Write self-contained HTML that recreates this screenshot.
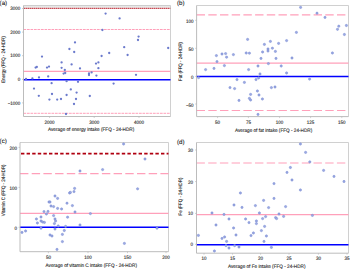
<!DOCTYPE html>
<html><head><meta charset="utf-8"><style>
html,body{margin:0;padding:0;background:#fff;width:350px;height:270px;overflow:hidden}
svg{display:block}
text{font-family:"Liberation Sans", sans-serif;fill:#222;stroke:#222;stroke-width:0.1;text-rendering:geometricPrecision}
circle{fill:#6b7acc} .r circle{fill:#9aa8e2;stroke:#7788d0;stroke-width:0.5}
</style></head><body>
<svg width="350" height="270" viewBox="0 0 350 270">
<rect width="350" height="270" fill="#fff"/>
<rect x="23.5" y="5.5" width="147" height="2.2" fill="#e8e8e8"/>
<path d="M23.5 5.5H170.5V116.5" fill="none" stroke="#c4c4c4" stroke-width="0.8"/>
<line x1="24.3" y1="8.4" x2="170.5" y2="8.4" stroke="#b00010" stroke-width="1.3" stroke-dasharray="1.1 0.9"/>
<line x1="23.5" y1="29.5" x2="170.5" y2="29.5" stroke="#ffa0ba" stroke-width="1.0" stroke-dasharray="2.7 0.8"/>
<line x1="23.5" y1="113.3" x2="170.5" y2="113.3" stroke="#ffa0ba" stroke-width="1.0" stroke-dasharray="2.7 0.8"/>
<line x1="23.5" y1="71.4" x2="170.5" y2="71.4" stroke="#ffa0ba" stroke-width="1.25"/>
<line x1="23.5" y1="79.7" x2="170.5" y2="79.7" stroke="#0000ff" stroke-width="1.5"/>
<path d="M23.5 5.5V116.5H170.5" fill="none" stroke="#b4b4b4" stroke-width="0.9"/>
<line x1="22" y1="102.9" x2="23.5" y2="102.9" stroke="#b4b4b4" stroke-width="0.6"/>
<text transform="translate(20.3 104.5) scale(0.9 1)" text-anchor="end" font-size="5.0">&#8722;1000</text>
<line x1="22" y1="79.3" x2="23.5" y2="79.3" stroke="#b4b4b4" stroke-width="0.6"/>
<text transform="translate(20.3 80.9) scale(0.9 1)" text-anchor="end" font-size="5.0">0</text>
<line x1="22" y1="55.7" x2="23.5" y2="55.7" stroke="#b4b4b4" stroke-width="0.6"/>
<text transform="translate(20.3 57.3) scale(0.9 1)" text-anchor="end" font-size="5.0">1000</text>
<line x1="22" y1="32.1" x2="23.5" y2="32.1" stroke="#b4b4b4" stroke-width="0.6"/>
<text transform="translate(20.3 33.7) scale(0.9 1)" text-anchor="end" font-size="5.0">2000</text>
<line x1="22" y1="8.5" x2="23.5" y2="8.5" stroke="#b4b4b4" stroke-width="0.6"/>
<text transform="translate(20.3 10.1) scale(0.9 1)" text-anchor="end" font-size="5.0">3000</text>
<line x1="49.6" y1="116.5" x2="49.6" y2="118" stroke="#b4b4b4" stroke-width="0.6"/>
<text transform="translate(49.6 123.5) scale(0.9 1)" text-anchor="middle" font-size="5.0">2000</text>
<line x1="94.2" y1="116.5" x2="94.2" y2="118" stroke="#b4b4b4" stroke-width="0.6"/>
<text transform="translate(94.2 123.5) scale(0.9 1)" text-anchor="middle" font-size="5.0">3000</text>
<line x1="139" y1="116.5" x2="139" y2="118" stroke="#b4b4b4" stroke-width="0.6"/>
<text transform="translate(139 123.5) scale(0.9 1)" text-anchor="middle" font-size="5.0">4000</text>
<g>
<circle cx="26" cy="79" r="1.15"/>
<circle cx="32.4" cy="78.4" r="1.15"/>
<circle cx="35.6" cy="67.6" r="1.15"/>
<circle cx="36.8" cy="67" r="1.15"/>
<circle cx="39" cy="77.4" r="1.15"/>
<circle cx="42" cy="56.6" r="1.15"/>
<circle cx="47" cy="67.6" r="1.15"/>
<circle cx="49" cy="66.6" r="1.15"/>
<circle cx="48.2" cy="76.4" r="1.15"/>
<circle cx="51.6" cy="83.2" r="1.15"/>
<circle cx="34" cy="88.6" r="1.15"/>
<circle cx="38.8" cy="95.8" r="1.15"/>
<circle cx="49.4" cy="99.6" r="1.15"/>
<circle cx="52" cy="94" r="1.15"/>
<circle cx="57.2" cy="99.6" r="1.15"/>
<circle cx="61" cy="99" r="1.15"/>
<circle cx="61.6" cy="62.4" r="1.15"/>
<circle cx="61.6" cy="67.8" r="1.15"/>
<circle cx="63.6" cy="73.6" r="1.15"/>
<circle cx="65.2" cy="73" r="1.15"/>
<circle cx="64.8" cy="70" r="1.15"/>
<circle cx="69.4" cy="49" r="1.15"/>
<circle cx="71.6" cy="64.4" r="1.15"/>
<circle cx="75" cy="42.4" r="1.15"/>
<circle cx="74.2" cy="52" r="1.15"/>
<circle cx="80" cy="68.4" r="1.15"/>
<circle cx="66.6" cy="81.2" r="1.15"/>
<circle cx="78" cy="81.8" r="1.15"/>
<circle cx="66.6" cy="95" r="1.15"/>
<circle cx="70.8" cy="89.4" r="1.15"/>
<circle cx="66" cy="114" r="1.15"/>
<circle cx="76.6" cy="92.6" r="1.15"/>
<circle cx="76" cy="99" r="1.15"/>
<circle cx="74" cy="104" r="1.15"/>
<circle cx="89" cy="73.4" r="1.15"/>
<circle cx="89" cy="75" r="1.15"/>
<circle cx="91.6" cy="72.4" r="1.15"/>
<circle cx="89.8" cy="96" r="1.15"/>
<circle cx="96" cy="63.6" r="1.15"/>
<circle cx="98.4" cy="62.4" r="1.15"/>
<circle cx="98.4" cy="68.2" r="1.15"/>
<circle cx="96.4" cy="75.6" r="1.15"/>
<circle cx="101.6" cy="56" r="1.15"/>
<circle cx="109.2" cy="53" r="1.15"/>
<circle cx="127.6" cy="55" r="1.15"/>
<circle cx="105.6" cy="13.6" r="1.15"/>
<circle cx="119.6" cy="18.4" r="1.15"/>
<circle cx="102.4" cy="30" r="1.15"/>
<circle cx="138.6" cy="36.6" r="1.15"/>
<circle cx="138" cy="40" r="1.15"/>
<circle cx="124.2" cy="47.2" r="1.15"/>
<circle cx="136" cy="74.8" r="1.15"/>
<circle cx="113.6" cy="83.6" r="1.15"/>
<circle cx="168.2" cy="48" r="1.15"/>
</g>
<text transform="translate(48 130.7) scale(0.93 1)" font-size="5.0">Average of energy intake (FFQ - 24-HDR)</text>
<text transform="translate(5.1 59.5) rotate(-90) scale(0.88 1)" text-anchor="middle" font-size="5.0">Energy (FFQ - 24-HDR)</text>
<text x="-0.4" y="5" font-size="6.2">(a)</text>
<path d="M196.6 5.5H348.5V116.6" fill="none" stroke="#c4c4c4" stroke-width="0.8"/>
<line x1="196.6" y1="14.8" x2="348.5" y2="14.8" stroke="#ffa0ba" stroke-width="1.2" stroke-dasharray="8.4 3.3"/>
<line x1="196.6" y1="110.5" x2="348.5" y2="110.5" stroke="#ffa0ba" stroke-width="1.2" stroke-dasharray="8.4 3.3"/>
<line x1="196.6" y1="63.1" x2="348.5" y2="63.1" stroke="#ffa0ba" stroke-width="1.25"/>
<line x1="196.6" y1="76.6" x2="348.5" y2="76.6" stroke="#0000ff" stroke-width="1.5"/>
<path d="M196.6 5.5V116.6H348.5" fill="none" stroke="#b4b4b4" stroke-width="0.9"/>
<line x1="195.1" y1="104" x2="196.6" y2="104" stroke="#b4b4b4" stroke-width="0.6"/>
<text transform="translate(193.6 106.5) scale(0.9 1)" text-anchor="end" font-size="5.0">&#8722;50</text>
<line x1="195.1" y1="76.4" x2="196.6" y2="76.4" stroke="#b4b4b4" stroke-width="0.6"/>
<text transform="translate(193.6 78.9) scale(0.9 1)" text-anchor="end" font-size="5.0">0</text>
<line x1="195.1" y1="48.3" x2="196.6" y2="48.3" stroke="#b4b4b4" stroke-width="0.6"/>
<text transform="translate(193.6 50.8) scale(0.9 1)" text-anchor="end" font-size="5.0">50</text>
<line x1="195.1" y1="20.3" x2="196.6" y2="20.3" stroke="#b4b4b4" stroke-width="0.6"/>
<text transform="translate(193.6 22.8) scale(0.9 1)" text-anchor="end" font-size="5.0">100</text>
<line x1="217.6" y1="116.6" x2="217.6" y2="118.1" stroke="#b4b4b4" stroke-width="0.6"/>
<text transform="translate(217.6 123.6) scale(0.9 1)" text-anchor="middle" font-size="5.0">50</text>
<line x1="248.4" y1="116.6" x2="248.4" y2="118.1" stroke="#b4b4b4" stroke-width="0.6"/>
<text transform="translate(248.4 123.6) scale(0.9 1)" text-anchor="middle" font-size="5.0">75</text>
<line x1="279.6" y1="116.6" x2="279.6" y2="118.1" stroke="#b4b4b4" stroke-width="0.6"/>
<text transform="translate(279.6 123.6) scale(0.9 1)" text-anchor="middle" font-size="5.0">100</text>
<line x1="310.6" y1="116.6" x2="310.6" y2="118.1" stroke="#b4b4b4" stroke-width="0.6"/>
<text transform="translate(310.6 123.6) scale(0.9 1)" text-anchor="middle" font-size="5.0">125</text>
<line x1="341.8" y1="116.6" x2="341.8" y2="118.1" stroke="#b4b4b4" stroke-width="0.6"/>
<text transform="translate(341.8 123.6) scale(0.9 1)" text-anchor="middle" font-size="5.0">150</text>
<g class="r">
<circle cx="198.6" cy="77.6" r="1.15"/>
<circle cx="205.6" cy="69.6" r="1.15"/>
<circle cx="214" cy="68.4" r="1.15"/>
<circle cx="216.4" cy="55.6" r="1.15"/>
<circle cx="217" cy="61.6" r="1.15"/>
<circle cx="222" cy="54" r="1.15"/>
<circle cx="225.6" cy="53.6" r="1.15"/>
<circle cx="226.6" cy="57.2" r="1.15"/>
<circle cx="224.4" cy="65.6" r="1.15"/>
<circle cx="233.4" cy="54.6" r="1.15"/>
<circle cx="246.2" cy="53" r="1.15"/>
<circle cx="249.4" cy="53.2" r="1.15"/>
<circle cx="247.6" cy="39.4" r="1.15"/>
<circle cx="264.4" cy="44.4" r="1.15"/>
<circle cx="262.6" cy="52" r="1.15"/>
<circle cx="261" cy="58.4" r="1.15"/>
<circle cx="248.6" cy="69.6" r="1.15"/>
<circle cx="258" cy="66" r="1.15"/>
<circle cx="260" cy="74" r="1.15"/>
<circle cx="237" cy="79.6" r="1.15"/>
<circle cx="244.4" cy="82.4" r="1.15"/>
<circle cx="256" cy="79.6" r="1.15"/>
<circle cx="258.6" cy="78" r="1.15"/>
<circle cx="230" cy="87.6" r="1.15"/>
<circle cx="234.6" cy="88.6" r="1.15"/>
<circle cx="239" cy="100.4" r="1.15"/>
<circle cx="250.6" cy="94.4" r="1.15"/>
<circle cx="249.4" cy="98.4" r="1.15"/>
<circle cx="250.6" cy="100" r="1.15"/>
<circle cx="257.4" cy="91" r="1.15"/>
<circle cx="259" cy="95" r="1.15"/>
<circle cx="262.4" cy="99" r="1.15"/>
<circle cx="258" cy="114.4" r="1.15"/>
<circle cx="300.6" cy="7.4" r="1.15"/>
<circle cx="317" cy="13.2" r="1.15"/>
<circle cx="325" cy="17.4" r="1.15"/>
<circle cx="296.4" cy="32.4" r="1.15"/>
<circle cx="286.6" cy="40.6" r="1.15"/>
<circle cx="278.6" cy="43.4" r="1.15"/>
<circle cx="270.4" cy="41.4" r="1.15"/>
<circle cx="268" cy="49" r="1.15"/>
<circle cx="268" cy="51" r="1.15"/>
<circle cx="272.4" cy="48.2" r="1.15"/>
<circle cx="275.4" cy="51.4" r="1.15"/>
<circle cx="276" cy="58.4" r="1.15"/>
<circle cx="292" cy="58" r="1.15"/>
<circle cx="268.4" cy="63.6" r="1.15"/>
<circle cx="281.2" cy="66" r="1.15"/>
<circle cx="286.6" cy="73" r="1.15"/>
<circle cx="309.6" cy="79.1" r="1.15"/>
<circle cx="271.4" cy="87.6" r="1.15"/>
<circle cx="275" cy="87" r="1.15"/>
<circle cx="338.8" cy="26.2" r="1.15"/>
<circle cx="337.5" cy="29.3" r="1.15"/>
<circle cx="346.4" cy="25.5" r="1.15"/>
<circle cx="344.4" cy="34.5" r="1.15"/>
<circle cx="332.4" cy="53" r="1.15"/>
</g>
<text transform="translate(235 132.1) scale(0.93 1)" font-size="5.0">Average of fat intake (FFQ - 24-HDR)</text>
<text transform="translate(182.3 61.5) rotate(-90) scale(0.88 1)" text-anchor="middle" font-size="5.0">Fat (FFQ - 24-HDR)</text>
<text x="177" y="4.6" font-size="6.2">(b)</text>
<path d="M20 142.5H168.5V251.7" fill="none" stroke="#c4c4c4" stroke-width="0.8"/>
<line x1="21" y1="153.6" x2="168.5" y2="153.6" stroke="#b00010" stroke-width="1.7" stroke-dasharray="3.4 2.2"/>
<line x1="20" y1="173.7" x2="168.5" y2="173.7" stroke="#ffa0ba" stroke-width="1.2" stroke-dasharray="8.4 3.3"/>
<line x1="20" y1="213.4" x2="168.5" y2="213.4" stroke="#ffa0ba" stroke-width="1.25"/>
<line x1="20" y1="227.3" x2="168.5" y2="227.3" stroke="#0000ff" stroke-width="1.5"/>
<path d="M20 142.5V251.7H168.5" fill="none" stroke="#b4b4b4" stroke-width="0.9"/>
<line x1="18.5" y1="227.3" x2="20" y2="227.3" stroke="#b4b4b4" stroke-width="0.6"/>
<text transform="translate(17 229.8) scale(0.9 1)" text-anchor="end" font-size="5.0">0</text>
<line x1="18.5" y1="187.4" x2="20" y2="187.4" stroke="#b4b4b4" stroke-width="0.6"/>
<text transform="translate(17 189.9) scale(0.9 1)" text-anchor="end" font-size="5.0">100</text>
<line x1="18.5" y1="147.4" x2="20" y2="147.4" stroke="#b4b4b4" stroke-width="0.6"/>
<text transform="translate(17 149.9) scale(0.9 1)" text-anchor="end" font-size="5.0">200</text>
<line x1="48.4" y1="251.7" x2="48.4" y2="253.2" stroke="#b4b4b4" stroke-width="0.6"/>
<text transform="translate(48.4 258.7) scale(0.9 1)" text-anchor="middle" font-size="5.0">50</text>
<line x1="88" y1="251.7" x2="88" y2="253.2" stroke="#b4b4b4" stroke-width="0.6"/>
<text transform="translate(88 258.7) scale(0.9 1)" text-anchor="middle" font-size="5.0">100</text>
<line x1="127.5" y1="251.7" x2="127.5" y2="253.2" stroke="#b4b4b4" stroke-width="0.6"/>
<text transform="translate(127.5 258.7) scale(0.9 1)" text-anchor="middle" font-size="5.0">150</text>
<line x1="166" y1="251.7" x2="166" y2="253.2" stroke="#b4b4b4" stroke-width="0.6"/>
<text transform="translate(166 258.7) scale(0.9 1)" text-anchor="middle" font-size="5.0">200</text>
<g class="r">
<circle cx="22" cy="232.4" r="1.15"/>
<circle cx="25.6" cy="231" r="1.15"/>
<circle cx="36.4" cy="219" r="1.15"/>
<circle cx="37.4" cy="223" r="1.15"/>
<circle cx="41" cy="217" r="1.15"/>
<circle cx="41" cy="221" r="1.15"/>
<circle cx="42.6" cy="222" r="1.15"/>
<circle cx="44.4" cy="222.4" r="1.15"/>
<circle cx="41" cy="228.2" r="1.15"/>
<circle cx="44" cy="211.6" r="1.15"/>
<circle cx="46.4" cy="214" r="1.15"/>
<circle cx="48" cy="211.4" r="1.15"/>
<circle cx="49" cy="202" r="1.15"/>
<circle cx="50" cy="202" r="1.15"/>
<circle cx="51" cy="206" r="1.15"/>
<circle cx="53.6" cy="206.6" r="1.15"/>
<circle cx="55" cy="196" r="1.15"/>
<circle cx="57.6" cy="198.4" r="1.15"/>
<circle cx="57.6" cy="208.4" r="1.15"/>
<circle cx="53.6" cy="215.6" r="1.15"/>
<circle cx="55" cy="219" r="1.15"/>
<circle cx="55.6" cy="221" r="1.15"/>
<circle cx="54.4" cy="223.6" r="1.15"/>
<circle cx="55" cy="229" r="1.15"/>
<circle cx="58.2" cy="226" r="1.15"/>
<circle cx="61.6" cy="209" r="1.15"/>
<circle cx="67" cy="203.2" r="1.15"/>
<circle cx="69.6" cy="193" r="1.15"/>
<circle cx="67.6" cy="217.2" r="1.15"/>
<circle cx="65.6" cy="226.4" r="1.15"/>
<circle cx="64.3" cy="230.5" r="1.15"/>
<circle cx="62.4" cy="234.4" r="1.15"/>
<circle cx="50" cy="235" r="1.15"/>
<circle cx="52" cy="236" r="1.15"/>
<circle cx="62.4" cy="241.6" r="1.15"/>
<circle cx="57" cy="249.4" r="1.15"/>
<circle cx="74.6" cy="188.4" r="1.15"/>
<circle cx="74" cy="191.6" r="1.15"/>
<circle cx="70.4" cy="192.4" r="1.15"/>
<circle cx="72.4" cy="205.6" r="1.15"/>
<circle cx="75" cy="212" r="1.15"/>
<circle cx="90.4" cy="213.6" r="1.15"/>
<circle cx="80" cy="225" r="1.15"/>
<circle cx="80" cy="171" r="1.15"/>
<circle cx="102.6" cy="169.6" r="1.15"/>
<circle cx="123.6" cy="144" r="1.15"/>
<circle cx="145" cy="159" r="1.15"/>
<circle cx="137.6" cy="188.8" r="1.15"/>
<circle cx="157" cy="228.2" r="1.15"/>
<circle cx="124.4" cy="243.4" r="1.15"/>
</g>
<text transform="translate(45.6 266.6) scale(0.93 1)" font-size="5.0">Average of vitamin C intake (FFQ - 24-HDR)</text>
<text transform="translate(5.2 190.3) rotate(-90) scale(0.88 1)" text-anchor="middle" font-size="5.0">Vitamin C (FFQ - 24-HDR)</text>
<text x="-0.4" y="143.4" font-size="6.2">(c)</text>
<path d="M196.5 142.5H348.5V253.2" fill="none" stroke="#c4c4c4" stroke-width="0.8"/>
<line x1="196.5" y1="163" x2="348.5" y2="163" stroke="#ffa0ba" stroke-width="1.2" stroke-dasharray="8.4 3.3"/>
<line x1="196.5" y1="214.6" x2="348.5" y2="214.6" stroke="#ffa0ba" stroke-width="1.25"/>
<line x1="196.5" y1="244.7" x2="348.5" y2="244.7" stroke="#0000ff" stroke-width="1.5"/>
<path d="M196.5 142.5V253.2H348.5" fill="none" stroke="#b4b4b4" stroke-width="0.9"/>
<line x1="195" y1="244.3" x2="196.5" y2="244.3" stroke="#b4b4b4" stroke-width="0.6"/>
<text transform="translate(193 246.3) scale(0.9 1)" text-anchor="end" font-size="5.0">0</text>
<line x1="195" y1="213.4" x2="196.5" y2="213.4" stroke="#b4b4b4" stroke-width="0.6"/>
<text transform="translate(193 215.4) scale(0.9 1)" text-anchor="end" font-size="5.0">10</text>
<line x1="195" y1="181.6" x2="196.5" y2="181.6" stroke="#b4b4b4" stroke-width="0.6"/>
<text transform="translate(193 183.6) scale(0.9 1)" text-anchor="end" font-size="5.0">20</text>
<line x1="195" y1="150" x2="196.5" y2="150" stroke="#b4b4b4" stroke-width="0.6"/>
<text transform="translate(193 152) scale(0.9 1)" text-anchor="end" font-size="5.0">30</text>
<line x1="204" y1="253.2" x2="204" y2="254.7" stroke="#b4b4b4" stroke-width="0.6"/>
<text transform="translate(204 260.2) scale(0.9 1)" text-anchor="middle" font-size="5.0">10</text>
<line x1="232.6" y1="253.2" x2="232.6" y2="254.7" stroke="#b4b4b4" stroke-width="0.6"/>
<text transform="translate(232.6 260.2) scale(0.9 1)" text-anchor="middle" font-size="5.0">15</text>
<line x1="260.6" y1="253.2" x2="260.6" y2="254.7" stroke="#b4b4b4" stroke-width="0.6"/>
<text transform="translate(260.6 260.2) scale(0.9 1)" text-anchor="middle" font-size="5.0">20</text>
<line x1="289" y1="253.2" x2="289" y2="254.7" stroke="#b4b4b4" stroke-width="0.6"/>
<text transform="translate(289 260.2) scale(0.9 1)" text-anchor="middle" font-size="5.0">25</text>
<line x1="318.4" y1="253.2" x2="318.4" y2="254.7" stroke="#b4b4b4" stroke-width="0.6"/>
<text transform="translate(318.4 260.2) scale(0.9 1)" text-anchor="middle" font-size="5.0">30</text>
<line x1="347" y1="253.2" x2="347" y2="254.7" stroke="#b4b4b4" stroke-width="0.6"/>
<text transform="translate(347 260.2) scale(0.9 1)" text-anchor="middle" font-size="5.0">35</text>
<g class="r">
<circle cx="198.4" cy="235.4" r="1.15"/>
<circle cx="212" cy="213" r="1.15"/>
<circle cx="214.4" cy="251" r="1.15"/>
<circle cx="216" cy="225" r="1.15"/>
<circle cx="222" cy="238.4" r="1.15"/>
<circle cx="224.6" cy="237" r="1.15"/>
<circle cx="224" cy="214.4" r="1.15"/>
<circle cx="226.6" cy="241.4" r="1.15"/>
<circle cx="226" cy="245.6" r="1.15"/>
<circle cx="229" cy="248" r="1.15"/>
<circle cx="229" cy="219" r="1.15"/>
<circle cx="233.6" cy="228" r="1.15"/>
<circle cx="234" cy="205" r="1.15"/>
<circle cx="234.6" cy="245.6" r="1.15"/>
<circle cx="236" cy="235" r="1.15"/>
<circle cx="239" cy="247" r="1.15"/>
<circle cx="240.4" cy="193" r="1.15"/>
<circle cx="242" cy="207.4" r="1.15"/>
<circle cx="245.6" cy="219" r="1.15"/>
<circle cx="249" cy="222.6" r="1.15"/>
<circle cx="256.4" cy="221" r="1.15"/>
<circle cx="256.4" cy="223.6" r="1.15"/>
<circle cx="262.6" cy="218.6" r="1.15"/>
<circle cx="264.6" cy="226.4" r="1.15"/>
<circle cx="261.4" cy="230.6" r="1.15"/>
<circle cx="253.4" cy="233" r="1.15"/>
<circle cx="251" cy="235.6" r="1.15"/>
<circle cx="266.4" cy="236" r="1.15"/>
<circle cx="264" cy="241.4" r="1.15"/>
<circle cx="271.4" cy="247.4" r="1.15"/>
<circle cx="255.4" cy="205.6" r="1.15"/>
<circle cx="259.4" cy="213" r="1.15"/>
<circle cx="263.6" cy="200.4" r="1.15"/>
<circle cx="268.6" cy="207.6" r="1.15"/>
<circle cx="265.6" cy="216.6" r="1.15"/>
<circle cx="274" cy="198.4" r="1.15"/>
<circle cx="274" cy="183.6" r="1.15"/>
<circle cx="275.6" cy="217.6" r="1.15"/>
<circle cx="276.6" cy="218.6" r="1.15"/>
<circle cx="279" cy="214" r="1.15"/>
<circle cx="283.6" cy="216.4" r="1.15"/>
<circle cx="285.6" cy="206.6" r="1.15"/>
<circle cx="287" cy="172.4" r="1.15"/>
<circle cx="290.4" cy="167.5" r="1.15"/>
<circle cx="292" cy="180" r="1.15"/>
<circle cx="300.4" cy="144" r="1.15"/>
<circle cx="305.6" cy="152.4" r="1.15"/>
<circle cx="309.8" cy="161.9" r="1.15"/>
<circle cx="300.4" cy="190" r="1.15"/>
<circle cx="312.4" cy="215.4" r="1.15"/>
<circle cx="323.6" cy="170.4" r="1.15"/>
<circle cx="334" cy="176.4" r="1.15"/>
<circle cx="344" cy="181.5" r="1.15"/>
</g>
<text transform="translate(228 267.6) scale(0.93 1)" font-size="5.0">Average of Fe intake (FFQ - 24-HDR)</text>
<text transform="translate(182.1 196.5) rotate(-90) scale(0.88 1)" text-anchor="middle" font-size="5.0">Fe (FFQ - 24-HDR)</text>
<text x="177" y="143.9" font-size="6.2">(d)</text>
</svg>
</body></html>
